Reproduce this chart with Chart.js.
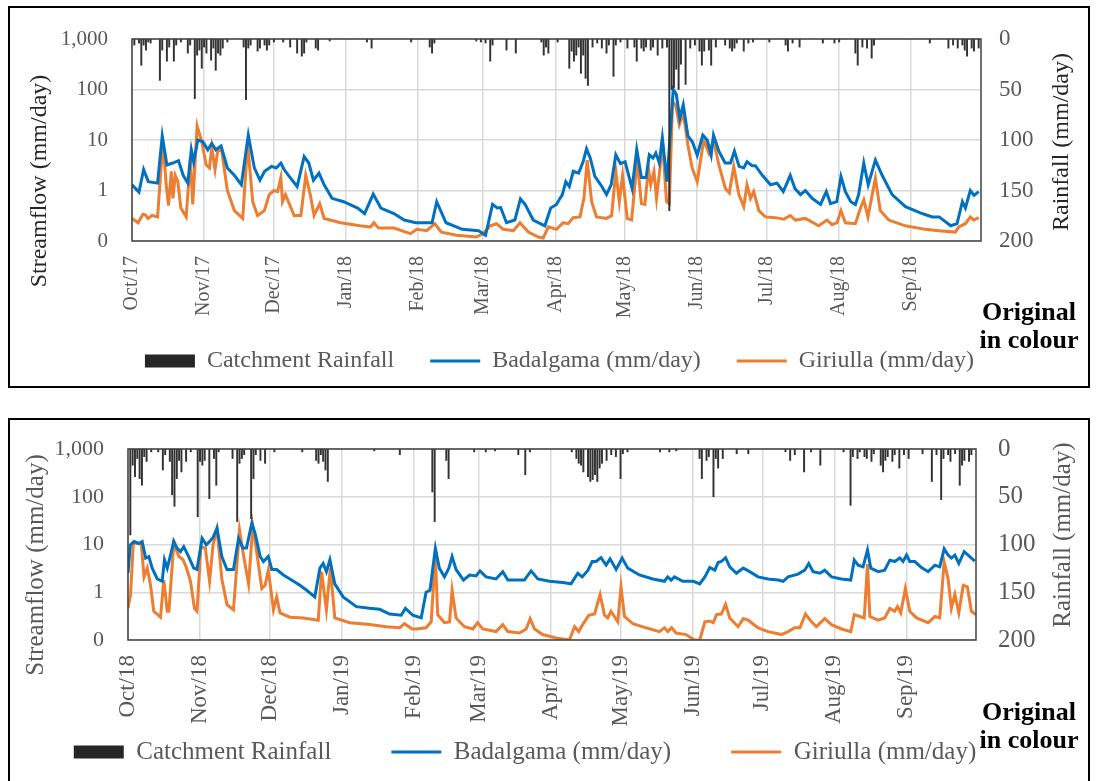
<!DOCTYPE html>
<html>
<head>
<meta charset="utf-8">
<script src="https://cdn.jsdelivr.net/npm/chart.js@4.4.1/dist/chart.umd.min.js"></script>
<style>
body { margin:0; background:#fff; width:1099px; height:781px; overflow:hidden; position:relative; font-family:"Liberation Serif", serif; }
.box { position:absolute; left:8px; width:1082px; border:2px solid #000; box-sizing:border-box; }
#box1 { top:6px; height:382px; }
#box2 { top:418px; height:380px; }
canvas { position:absolute; left:10px; }
#c1 { top:8px; }
#c2 { top:420px; }
.note { position:absolute; left:979px; width:100px; text-align:center; font-weight:bold; font-size:26px; line-height:28px; color:#000; }
</style>
</head>
<body>
<div class="box" id="box1"></div>
<div class="box" id="box2"></div>
<canvas id="c1" width="1078" height="378"></canvas>
<canvas id="c2" width="1078" height="361"></canvas>
<div class="note" style="top:298px">Original<br>in colour</div>
<div class="note" style="top:698px">Original<br>in colour</div>
<script>
// day 0 = 1 October, month boundaries
var monthStarts = [0, 31, 61, 92, 123, 151, 182, 212, 243, 273, 304, 335];
var months1718 = ['Oct/17', 'Nov/17', 'Dec/17', 'Jan/18', 'Feb/18', 'Mar/18', 'Apr/18', 'May/18', 'Jun/18', 'Jul/18', 'Aug/18', 'Sep/18'];
var months1819 = ['Oct/18', 'Nov/18', 'Dec/18', 'Jan/19', 'Feb/19', 'Mar/19', 'Apr/19', 'May/19', 'Jun/19', 'Jul/19', 'Aug/19', 'Sep/19'];
var flowTicks = [0.1, 1, 10, 100, 1000];
var rainTicks = [0, 50, 100, 150, 200];

// [day, mm]
var rain1718 = [[1,6],[3,4],[4,26],[5,6],[6,11],[7,3],[8,4],[12,41],[13,11],[15,22],[16,8],[18,22],[19,6],[21,3],[24,14],[25,6],[27,59],[28,16],[29,11],[30,29],[31,8],[32,14],[34,21],[35,9],[36,31],[37,14],[38,16],[39,9],[41,3],[48,8],[49,60],[50,9],[51,6],[54,12],[55,9],[57,6],[58,11],[59,6],[61,3],[65,3],[68,8],[71,14],[73,17],[74,14],[75,3],[79,9],[80,11],[85,2],[101,3],[103,9],[120,3],[128,8],[129,14],[130,4],[148,2],[150,3],[152,4],[154,22],[155,6],[161,11],[165,14],[176,3],[177,16],[178,8],[179,14],[183,3],[188,29],[189,12],[190,22],[191,16],[192,8],[193,34],[194,16],[195,39],[196,46],[198,8],[200,4],[202,9],[204,14],[205,6],[207,37],[208,6],[210,3],[213,9],[216,8],[217,22],[219,9],[220,12],[221,8],[223,11],[224,8],[226,16],[228,9],[230,8],[231,170],[232,50],[233,48],[234,30],[235,50],[236,25],[238,45],[240,9],[242,6],[244,12],[245,26],[246,12],[248,11],[249,26],[251,8],[255,6],[257,9],[258,12],[259,9],[260,4],[263,12],[265,4],[267,3],[274,3],[281,6],[282,12],[284,4],[287,8],[297,4],[302,4],[304,3],[311,14],[312,26],[314,8],[316,9],[318,19],[319,6],[343,4],[351,9],[353,6],[355,9],[357,6],[358,11],[359,17],[361,9],[362,12],[364,9]];
var bad1718 = [[0,1.3],[3,0.93],[5,2.6],[7,1.5],[11,1.4],[13,12],[15,3.2],[17.5,3.5],[20,3.9],[22,2.0],[24,1.4],[25.5,6.4],[26.5,3.7],[28.3,10],[30.4,9.3],[32.6,6.4],[34.3,8.6],[36,6.4],[38.3,7.6],[41,2.8],[44,2.0],[47,1.3],[50,12.5],[52.6,2.8],[55,1.6],[57,2.4],[60,3.0],[62,2.8],[64,3.5],[65.4,2.6],[68,1.8],[71,1.2],[74,4.7],[76,3.5],[78,1.6],[80.4,2.2],[82.6,1.3],[86,0.7],[91,0.6],[97,0.45],[100,0.35],[103.7,0.85],[107,0.45],[112.6,0.35],[117,0.26],[122,0.23],[129,0.23],[131,0.6],[135,0.23],[142,0.17],[149,0.16],[152,0.13],[155,0.53],[157,0.45],[158.5,0.46],[161,0.23],[164.6,0.26],[167,0.68],[169,0.53],[172.5,0.26],[177.5,0.2],[180,0.45],[182.5,0.53],[184,0.7],[185,0.82],[186.5,1.5],[188,1.2],[189.7,2.4],[192,2.2],[194,3.8],[195.4,6.7],[197,4.4],[199,1.9],[202,1.2],[204,0.83],[206,1.3],[208,5.1],[210,3.4],[212,3.7],[215,1.1],[217,6.5],[219,1.8],[221,1.8],[222.4,5.1],[224,4.4],[225.2,5.5],[226.7,3.5],[228,11],[230,1.5],[232.7,100],[234,80],[235.5,27],[237,50],[239,12],[241,9],[243,5],[245.4,12.5],[247.3,10],[249,5],[250,12.5],[252.3,6],[255,3.5],[257.3,3.5],[259,6],[261,3.0],[263,2.8],[264.4,3.7],[266.6,3.1],[268,3.1],[271,2.0],[274.5,1.3],[277.3,1.4],[280,0.95],[283,2.0],[285,1.1],[287.4,0.83],[289.5,1.0],[292.4,0.7],[296,0.53],[298.5,0.95],[300.3,0.55],[303,0.6],[304.8,1.9],[306.7,0.95],[309,0.6],[311,0.53],[312.4,0.83],[314.6,3.5],[316.5,1.3],[319.6,4.0],[322.5,2.0],[326.8,0.83],[332.5,0.48],[339.7,0.35],[344,0.3],[347,0.3],[352,0.2],[354.7,0.22],[357,0.6],[358.3,0.45],[360.4,1.0],[362,0.8],[364,0.95]];
var gir1718 = [[0,0.28],[2.6,0.23],[4.7,0.34],[5.7,0.33],[6.9,0.28],[8.6,0.32],[11,0.3],[13.3,9.3],[14.7,1.3],[15.7,0.5],[16.9,2.4],[17.6,0.7],[18.6,2.0],[19.7,1.5],[21,0.45],[23.3,0.3],[25.1,4.4],[26.1,0.53],[28,19],[30,9.3],[31.9,3.2],[33.3,2.8],[34.3,7],[35.7,2.6],[36.9,6.4],[38.6,6],[41,1.0],[44,0.4],[47.6,0.28],[49.7,8.6],[51.9,0.6],[54,0.32],[56.9,0.4],[59,0.83],[61,1.0],[62.6,0.95],[64,1.8],[64.7,0.6],[66,0.83],[69.7,0.32],[72.6,0.32],[74.7,2.0],[76.7,0.8],[78.3,0.32],[80.7,0.55],[82.6,0.28],[89.7,0.23],[98,0.2],[102.6,0.19],[104,0.23],[106,0.18],[112.6,0.18],[119.7,0.14],[122.4,0.17],[126.7,0.16],[130.2,0.22],[133,0.15],[139.6,0.13],[148,0.12],[151,0.14],[154,0.2],[156.7,0.22],[159.6,0.17],[164,0.16],[166.8,0.23],[170.4,0.15],[174.7,0.12],[176.8,0.115],[179,0.19],[182.5,0.17],[185.4,0.23],[187.5,0.22],[189.7,0.29],[192.6,0.3],[194.3,0.7],[195.7,4.0],[197.6,0.6],[199.7,0.3],[204,0.28],[206.2,0.32],[208,2.4],[209.5,0.6],[210.9,2.0],[212.9,0.28],[214.8,0.26],[217.2,4.0],[219,0.55],[220.5,0.53],[222,2.8],[223,1.3],[224.4,2.4],[225.5,0.7],[227,2.8],[228,10],[229.8,0.6],[231,0.55],[232.4,59],[233.8,47],[235.3,20],[237,34],[239,8],[240.8,2.8],[243,1.5],[245.8,10],[248,5.5],[250,10],[252.3,3.2],[255.1,1.1],[256.8,0.9],[258.7,3.0],[260.9,0.83],[263,0.48],[264.4,1.3],[265.9,0.7],[267.3,0.95],[269.5,0.4],[272.3,0.3],[276.6,0.29],[280.2,0.27],[283,0.32],[285.2,0.26],[289.5,0.28],[295.2,0.2],[298.8,0.26],[301,0.21],[303.1,0.23],[304.8,0.4],[306.7,0.23],[311,0.22],[313.2,0.45],[314.6,0.65],[316.4,0.3],[319.6,1.75],[321.7,0.4],[325.3,0.26],[332.5,0.2],[341,0.17],[346.8,0.16],[354,0.15],[355.4,0.19],[358.3,0.22],[360.4,0.3],[361.9,0.26],[364,0.29]];

var rain1819 = [[1,90],[2,17],[3,29],[4,10],[5,31],[6,38],[7,8],[8,13],[10,3],[13,3],[15,22],[16,6],[18,13],[19,48],[20,60],[21,31],[22,12],[23,24],[25,13],[27,3],[30,71],[31,13],[32,17],[33,12],[35,52],[37,10],[38,38],[39,3],[45,10],[47,76],[48,15],[49,10],[50,6],[53,73],[54,31],[55,6],[57,12],[59,15],[63,3],[75,3],[81,12],[82,15],[83,6],[84,13],[85,22],[86,34],[106,2],[117,6],[131,45],[132,76],[137,12],[138,31],[149,3],[154,3],[158,2],[168,6],[171,27],[173,3],[191,3],[193,10],[194,15],[195,17],[196,24],[198,29],[199,34],[200,32],[201,27],[202,34],[203,20],[204,15],[206,12],[208,6],[210,8],[212,31],[213,5],[215,3],[229,3],[233,3],[236,2],[246,10],[247,31],[249,12],[250,8],[252,50],[253,10],[254,20],[256,10],[262,5],[267,5],[283,3],[285,12],[287,6],[291,24],[294,3],[298,17],[308,3],[311,59],[312,8],[314,10],[315,3],[317,8],[318,10],[320,13],[321,5],[324,17],[325,24],[326,12],[327,8],[329,13],[330,6],[332,20],[334,6],[336,10],[342,5],[346,34],[348,6],[350,53],[351,10],[353,6],[354,13],[356,5],[358,38],[359,17],[360,12],[362,13],[363,6]];
var bad1819 = [[0,2.5],[1,9.8],[2.6,11.5],[4.7,10.5],[6.1,11.5],[7.6,5.2],[9,5.6],[10.4,3.2],[12.6,1.9],[14.7,1.7],[15.7,4.8],[16.9,3.2],[18.3,6],[19.7,11.7],[21.1,8.4],[22.6,7.1],[24,9],[26.1,5.6],[28.3,3.2],[29.7,3.0],[31.9,13.5],[33.7,9.8],[35.1,11.5],[36.6,14],[38.3,22],[40.4,5.6],[42.6,3.0],[45.4,3.0],[47.6,13.5],[49.4,8.4],[51,8.4],[53.3,28],[54.7,17],[56.9,5.6],[58.3,4.4],[60.4,5.6],[61.9,3.0],[64,3.0],[66.9,2.3],[69.7,1.9],[74,1.4],[76.9,1.1],[80.4,0.8],[82.6,3.2],[84,4.0],[85.4,2.7],[86.9,4.8],[89,1.5],[92.6,0.8],[98.3,0.5],[104,0.46],[108.3,0.44],[112.6,0.35],[117.6,0.33],[119.4,0.46],[122.6,0.33],[126.2,0.29],[128.3,1.0],[130,1.1],[132.3,8.3],[134,3.2],[136.2,2.1],[138.1,3.2],[139.5,5.6],[141.2,3.0],[144.4,1.8],[147,2.3],[149.8,2.2],[151.5,2.8],[154.1,2.1],[158.4,1.9],[161.3,2.7],[163.5,1.8],[170.6,1.8],[173.5,2.8],[176.4,1.9],[181.4,1.7],[187.1,1.6],[190.7,1.5],[193.6,2.5],[195.5,2.1],[198,2.9],[199.8,4.4],[201.5,4.4],[203.6,5.3],[205.8,3.7],[207.5,5.0],[210.1,3.0],[212.7,5.2],[215.1,3.2],[220.1,2.3],[225.9,1.9],[230.9,1.7],[232.3,2.1],[233.8,1.8],[235.2,2.1],[238.8,1.7],[243.3,1.7],[246.1,1.5],[248.3,2.1],[250.4,3.3],[252.6,2.9],[254,4.2],[255.4,4.4],[257.2,5.3],[259,3.4],[261.9,2.5],[264.8,3.2],[267.6,2.7],[271.2,2.1],[275.5,1.9],[279.8,1.8],[282,1.7],[284.1,2.1],[288.4,2.4],[291.3,2.9],[293,4.0],[294.9,2.7],[297.8,2.5],[299.9,2.9],[302.8,2.1],[307.1,1.9],[311.1,1.8],[312.6,4.7],[314.3,3.7],[316.4,3.4],[318.3,7.7],[319.7,3.2],[322.9,2.7],[325.7,2.9],[327.9,4.7],[330,4.4],[332.2,5.2],[333.6,4.4],[335.1,6.0],[336.5,4.4],[338.7,4.4],[341.5,3.3],[344.4,2.7],[347.3,3.7],[349.4,3.4],[351.3,8.1],[353,6.0],[354.4,5.2],[355.9,6.0],[357.6,4.0],[359.9,7.1],[361.6,6.0],[364.5,4.5]];
var gir1819 = [[0,0.46],[1.1,0.9],[2.3,11],[4,10.5],[5.7,10.5],[6.9,2.1],[8.3,3.2],[9.7,1.4],[11.1,0.4],[14,0.3],[15.4,1.8],[16.9,0.4],[17.6,0.4],[19.7,10.5],[21.9,5.6],[23.7,4.8],[25.1,3.3],[26.9,1.7],[28.6,0.46],[29.7,0.4],[31.4,9],[33.3,8.4],[35.1,1.7],[36.6,9.8],[38.3,21],[40.4,1.9],[42.6,0.55],[45.4,0.43],[48,20],[49.7,6],[51.9,1.5],[53.7,24],[55.4,7],[57.6,1.2],[59,1.4],[60.4,2.9],[62.6,0.43],[64,0.8],[65.4,0.37],[69.7,0.3],[75.4,0.29],[81.9,0.26],[83.3,2.7],[85.4,0.43],[87.1,3.2],[89,0.29],[95.4,0.23],[104,0.21],[111.1,0.19],[116.9,0.18],[119,0.22],[122.3,0.17],[124,0.17],[128.3,0.18],[130.5,0.24],[132.3,6],[133.3,0.34],[136.2,0.23],[138.4,0.24],[139.5,1.1],[141.2,0.29],[144.8,0.19],[148.4,0.17],[150.5,0.23],[152.7,0.17],[158.4,0.15],[161.3,0.21],[163.5,0.15],[168.5,0.14],[171.4,0.17],[173.1,0.28],[175,0.17],[178.5,0.13],[184.3,0.11],[190,0.1],[192.2,0.19],[194,0.15],[195.7,0.21],[198.3,0.33],[200.8,0.35],[203.2,0.9],[205.1,0.33],[206.5,0.29],[207.9,0.4],[210.8,0.24],[212.2,1.3],[213.7,0.31],[217.3,0.22],[223,0.18],[228.7,0.15],[230.9,0.18],[232.3,0.15],[234,0.18],[235.9,0.14],[240.2,0.13],[243.8,0.1],[246.1,0.1],[248.3,0.24],[250.4,0.25],[251.9,0.23],[253.3,0.34],[255.4,0.35],[257.2,0.56],[259,0.29],[262.6,0.19],[264.8,0.28],[266.9,0.26],[271.2,0.18],[275.5,0.15],[281.3,0.13],[284.1,0.15],[287,0.18],[289.2,0.18],[291.6,0.35],[294.2,0.24],[296.3,0.19],[299.9,0.28],[302.8,0.21],[307.1,0.17],[311.1,0.15],[312.6,0.34],[315,0.31],[316.9,0.29],[318.3,3.9],[319.3,0.31],[322.9,0.26],[325.7,0.29],[327.9,0.46],[330,0.4],[331.2,0.5],[332.6,0.37],[334.6,1.2],[336.5,0.4],[339.4,0.29],[344.4,0.23],[347.3,0.31],[349.4,0.29],[351.3,4.3],[353,1.9],[354.4,0.46],[355.9,0.9],[357.6,0.37],[359.5,1.4],[361.3,1.3],[363,0.4],[364.8,0.34]];

var serif = '"Liberation Serif", "Times New Roman", serif';
var grey = '#595959';

function pts(arr) {
    return arr.map(function (d) { return { x: d[0], y: d[1] }; });
}

// scales must not push the plot area around: sizes are fixed per panel
function fixSize(prop, val) {
    return function (s) {
        s[prop] = val;
        s.paddingTop = 0; s.paddingBottom = 0; s.paddingLeft = 0; s.paddingRight = 0;
    };
}

// plot frame + both axis titles (both read bottom to top, like the original)
var panelFrame = {
    id: 'panelFrame',
    afterLayout: function (chart, args, o) {
        // put the legend row where the original has it
        var lg = chart.legend;
        var h = lg.bottom - lg.top;
        lg.top = o.legTop;
        lg.bottom = o.legTop + h;
    },
    afterDraw: function (chart, args, o) {
        var ctx = chart.ctx, a = chart.chartArea;
        ctx.save();
        ctx.strokeStyle = '#404040';
        ctx.lineWidth = 1.5;
        ctx.strokeRect(a.left, a.top, a.right - a.left, a.bottom - a.top);
        ctx.fillStyle = o.color;
        ctx.font = o.size + 'px ' + serif;
        ctx.textAlign = 'center';
        ctx.textBaseline = 'middle';
        o.titles.forEach(function (t) {
            ctx.save();
            ctx.translate(t[0], t[1]);
            ctx.rotate(-Math.PI / 2);
            ctx.fillText(t[2], 0, 0);
            ctx.restore();
        });
        ctx.restore();
    }
};

function makePanel(id, rain, bad, gir, months, L) {
    return new Chart(document.getElementById(id), {
        type: 'line',
        data: {
            datasets: [
                { type: 'bar', label: 'Catchment Rainfall', data: pts(rain), xAxisID: 'x', yAxisID: 'y2', backgroundColor: '#333333', barThickness: 1.3 },
                { label: 'Badalgama (mm/day)', data: pts(bad), xAxisID: 'x', yAxisID: 'y', borderColor: '#0070c0', borderWidth: 3, pointRadius: 0, tension: 0, fill: false },
                { label: 'Giriulla (mm/day)', data: pts(gir), xAxisID: 'x', yAxisID: 'y', borderColor: '#ed7d31', borderWidth: 3, pointRadius: 0, tension: 0, fill: false }
            ]
        },
        options: {
            responsive: false,
            animation: false,
            devicePixelRatio: 1,
            layout: { padding: L.pad },
            plugins: {
                tooltip: { enabled: false },
                legend: {
                    position: 'bottom',
                    labels: {
                        usePointStyle: true,
                        pointStyleWidth: 50,
                        boxHeight: 13,
                        padding: L.legPad,
                        color: grey,
                        font: { family: serif, size: L.legSize },
                        generateLabels: function (chart) {
                            return chart.data.datasets.map(function (ds, i) {
                                var isBar = ds.type === 'bar';
                                return {
                                    text: ds.label, datasetIndex: i, hidden: false,
                                    pointStyle: isBar ? 'rect' : 'line',
                                    fillStyle: isBar ? '#262626' : ds.borderColor,
                                    strokeStyle: isBar ? '#262626' : ds.borderColor,
                                    lineWidth: isBar ? 0 : 3,
                                    fontColor: grey
                                };
                            });
                        }
                    }
                },
                panelFrame: {
                    color: L.titleColor, size: L.titleSize, legTop: L.legTop,
                    titles: [[L.lx, L.ly, 'Streamflow (mm/day)'], [L.rx, L.ry, 'Rainfall (mm/day)']]
                }
            },
            scales: {
                x: {
                    type: 'linear', min: 0, max: 365, offset: false,
                    grid: { color: '#d9d9d9', lineWidth: 1.5, drawTicks: false, offset: false },
                    border: { display: false },
                    afterBuildTicks: function (s) { s.ticks = monthStarts.map(function (v) { return { value: v }; }); },
                    afterFit: fixSize('height', L.xh),
                    ticks: {
                        autoSkip: false, minRotation: 90, maxRotation: 90, padding: 15, color: grey,
                        font: { family: serif, size: L.xSize },
                        callback: function (v) { return months[monthStarts.indexOf(v)]; }
                    }
                },
                y: {
                    type: 'logarithmic', position: 'left', min: 0.1, max: 1000,
                    grid: { color: '#d9d9d9', lineWidth: 1.5, drawTicks: false },
                    border: { display: false },
                    afterBuildTicks: function (s) { s.ticks = flowTicks.map(function (v) { return { value: v }; }); },
                    afterFit: fixSize('width', L.yw),
                    ticks: {
                        padding: L.yPad, color: grey, font: { family: serif, size: L.ySize },
                        callback: function (v) { return v === 0.1 ? '0' : v.toLocaleString('en-US'); }
                    }
                },
                y2: {
                    type: 'linear', position: 'right', reverse: true, min: 0, max: 200,
                    grid: { display: false, drawTicks: false },
                    border: { display: false },
                    afterBuildTicks: function (s) { s.ticks = rainTicks.map(function (v) { return { value: v }; }); },
                    afterFit: fixSize('width', L.y2w),
                    ticks: {
                        padding: L.y2Pad, color: grey, font: { family: serif, size: L.y2Size },
                        callback: function (v) { return String(v); }
                    }
                }
            }
        },
        plugins: [panelFrame]
    });
}

makePanel('c1', rain1718, bad1718, gir1718, months1718, {
    pad: { left: 21, right: 0, top: 31, bottom: -3 },
    yw: 101, y2w: 107, xh: 78,
    legPad: 36, legSize: 24, legTop: 305,
    xSize: 20, ySize: 21, y2Size: 23, yPad: 24, y2Pad: 18,
    titleColor: '#262626', titleSize: 24,
    lx: 30, ly: 173, rx: 1052, ry: 134
});

makePanel('c2', rain1819, bad1819, gir1819, months1819, {
    pad: { left: 0, right: 48, top: 29, bottom: -40 },
    yw: 118, y2w: 64, xh: 86,
    legPad: 60, legSize: 25, legTop: 259.5,
    xSize: 23, ySize: 22, y2Size: 25, yPad: 24, y2Pad: 22,
    titleColor: grey, titleSize: 25,
    lx: 26, ly: 145, rx: 1053, ry: 115
});
</script>
</body>
</html>
